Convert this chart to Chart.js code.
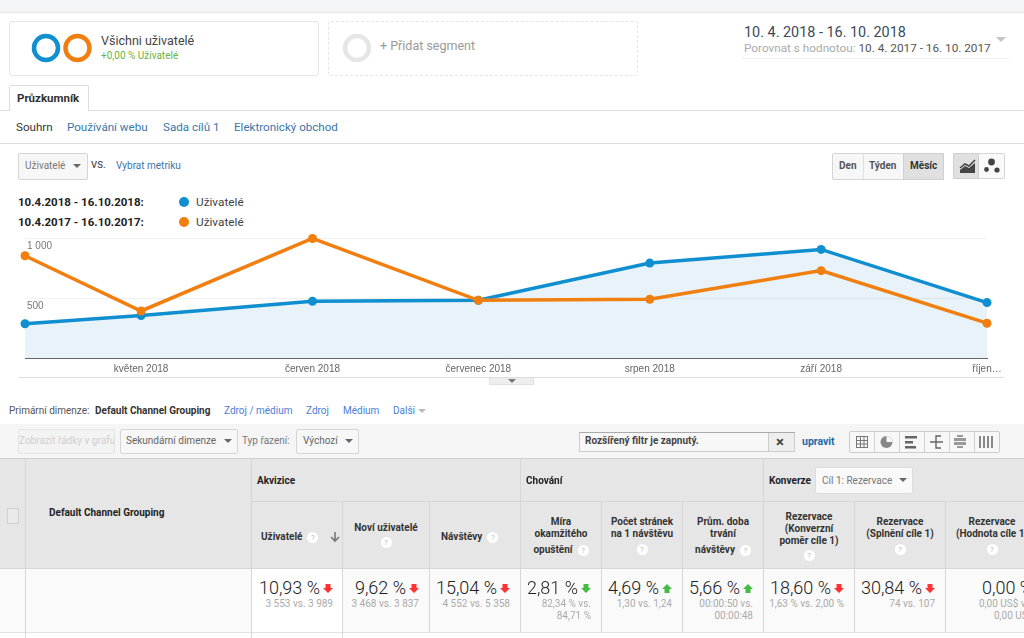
<!DOCTYPE html>
<html lang="cs">
<head>
<meta charset="utf-8">
<title>Přehled kanálů</title>
<script src="https://cdn.jsdelivr.net/npm/chart.js@4/dist/chart.umd.min.js"></script>
<style>
  html, body { margin: 0; padding: 0; background: #fff; }
  body { position: relative; width: 1024px; height: 638px; overflow: hidden; font-family: Roboto, sans-serif; color: #333; }
  .t { position: absolute; white-space: nowrap; line-height: 14px; height: 14px; }
  .box { position: absolute; box-sizing: border-box; }
  .link { color: #3a76a8; font-size: 11.6px; }
  .dim { color: #4a80d8; font-size: 10px; }
  .b { font-weight: 700; }
  .hline { position: absolute; height: 1px; background: #ddd; }
  .vline { position: absolute; width: 1px; background: #d6d6d6; }
  .btn { position: absolute; box-sizing: border-box; background: #f7f7f7; border: 1px solid #d5d5d5; border-radius: 2px; }
  .caret { position: absolute; width: 0; height: 0; border-left: 4px solid transparent; border-right: 4px solid transparent; border-top: 4px solid #666; }
  .head { position: absolute; text-align: center; font-size: 10px; font-weight: 700; line-height: 12px; color: #333; }
  .help { display: inline-block; width: 11px; height: 11px; border-radius: 50%; background: #fff; color: #bbb; font-size: 8px; line-height: 11px; text-align: center; font-weight: 400; }
  .big { position: absolute; height: 22px; line-height: 22px; font-size: 18px; font-weight: 300; color: #222; white-space: nowrap; }
  .big svg { margin-left: 3px; vertical-align: 1px; }
  .sub { position: absolute; font-size: 10px; line-height: 12px; color: #aaa; white-space: nowrap; text-align: right; }
  #chartWrap { position: absolute; left: 0; top: 230px; width: 1024px; height: 150px; }
</style>
</head>
<body>

<!-- top strip -->
<div class="box" style="left:0;top:0;width:1024px;height:13px;background:#f4f5f7;border-bottom:1px solid #e8e8e8"></div>

<!-- segments -->
<div class="box" style="left:9px;top:21px;width:310px;height:55px;border:1px solid #e5e5e5;border-radius:3px"></div>
<svg class="box" style="left:30px;top:32px" width="64" height="32">
  <circle cx="16" cy="16" r="12" fill="none" stroke="#0f8fd0" stroke-width="4.5"/>
  <circle cx="47.5" cy="16" r="12" fill="none" stroke="#f07f10" stroke-width="4.5"/>
</svg>
<div class="t" style="left:101px;top:34px;font-size:12.5px;color:#444">Všichni uživatelé</div>
<div class="t" style="left:101px;top:49px;font-size:10px;color:#6ab344">+0,00 % Uživatelé</div>

<div class="box" style="left:328px;top:21px;width:310px;height:55px;border:1px dashed #e5e5e5;border-radius:3px"></div>
<svg class="box" style="left:341px;top:32px" width="32" height="32">
  <circle cx="16" cy="16" r="12" fill="none" stroke="#e6e6e6" stroke-width="4.5"/>
</svg>
<div class="t" style="left:380px;top:39px;font-size:12.5px;color:#999">+ Přidat segment</div>

<!-- date range -->
<div class="t" style="left:744px;top:26px;font-size:14.4px;color:#3a4a5a">10. 4. 2018 - 16. 10. 2018</div>
<div class="t" style="left:744px;top:41px;font-size:11.75px;color:#aaa">Porovnat s hodnotou: <span style="color:#555">10. 4. 2017 - 16. 10. 2017</span></div>
<div class="hline" style="left:742px;top:58px;width:267px;background:#eee"></div>
<div class="caret" style="left:996px;top:37px;border-left-width:5px;border-right-width:5px;border-top:5px solid #c4c4c4"></div>

<!-- tabs -->
<div class="hline" style="left:0;top:110px;width:1024px"></div>
<div class="box" style="left:9px;top:85px;width:80px;height:26px;border:1px solid #ddd;border-bottom:0;background:#fff;border-radius:2px 2px 0 0"></div>
<div class="t b" style="left:17px;top:91px;font-size:11.5px;color:#333">Průzkumník</div>
<div class="t" style="left:16px;top:120px;font-size:11.6px;color:#333">Souhrn</div>
<div class="t link" style="left:67px;top:120px">Používání webu</div>
<div class="t link" style="left:163px;top:120px">Sada cílů 1</div>
<div class="t link" style="left:234px;top:120px">Elektronický obchod</div>
<div class="hline" style="left:0;top:143px;width:1024px"></div>

<!-- metric picker -->
<div class="btn" style="left:18px;top:153px;width:70px;height:27px"></div>
<div class="t" style="left:25px;top:159px;font-size:10px;color:#777">Uživatelé</div>
<div class="caret" style="left:73px;top:164px"></div>
<div class="t" style="left:91px;top:158px;font-size:9.5px;color:#555;font-weight:500">VS.</div>
<div class="t" style="left:116px;top:159px;font-size:10px;color:#3a76a8">Vybrat metriku</div>

<!-- period buttons -->
<div class="btn" style="left:832px;top:153px;width:112px;height:27px"></div>
<div class="box" style="left:903px;top:153px;width:41px;height:27px;background:#e0e0e0;border:1px solid #d0d0d0"></div>
<div class="vline" style="left:863px;top:154px;height:25px;background:#e0e0e0"></div>
<div class="t b" style="left:839px;top:159px;font-size:10px;color:#555">Den</div>
<div class="t b" style="left:869px;top:159px;font-size:10px;color:#555">Týden</div>
<div class="t b" style="left:910px;top:159px;font-size:10px;color:#333">Měsíc</div>
<div class="btn" style="left:953px;top:153px;width:52px;height:26px;background:#fafafa"></div>
<div class="box" style="left:953px;top:153px;width:26px;height:26px;background:#e0e0e0;border:1px solid #d0d0d0"></div>
<svg class="box" style="left:958px;top:157px" width="44" height="18">
  <path d="M2 11 L7 7 L11 9 L17 3" fill="none" stroke="#444" stroke-width="1.5"/>
  <path d="M2 16 L2 13 L7 9 L11 11 L17 6 L17 16 Z" fill="#444"/>
  <circle cx="33.5" cy="5" r="3.4" fill="#444"/><circle cx="28.5" cy="12.5" r="2.4" fill="#444"/><circle cx="39" cy="13" r="2.6" fill="#444"/>
</svg>

<!-- legend -->
<div class="t b" style="left:18px;top:195px;font-size:11.5px;color:#222">10.4.2018 - 16.10.2018:</div>
<div class="box" style="left:179px;top:197px;width:10px;height:10px;border-radius:50%;background:#0f8fd0"></div>
<div class="t" style="left:196px;top:195px;font-size:11.8px;color:#444">Uživatelé</div>
<div class="t b" style="left:18px;top:215px;font-size:11.5px;color:#222">10.4.2017 - 16.10.2017:</div>
<div class="box" style="left:179px;top:217px;width:10px;height:10px;border-radius:50%;background:#f07f10"></div>
<div class="t" style="left:196px;top:215px;font-size:11.8px;color:#444">Uživatelé</div>

<!-- chart -->
<div class="hline" style="left:19px;top:377px;width:985px"></div>
<div id="chartWrap"><canvas id="usersChart" width="1024" height="150"></canvas></div>
<div class="box" style="left:489px;top:378px;width:45px;height:7px;background:#eee;border:1px solid #e0e0e0;border-top:0"></div>
<div class="caret" style="left:508px;top:379px;border-top-color:#777"></div>

<!-- primary dimension -->
<div class="t" style="left:9px;top:404px;font-size:10px;color:#555">Primární dimenze:</div>
<div class="t b" style="left:95px;top:404px;font-size:10px;color:#333">Default Channel Grouping</div>
<div class="t dim" style="left:224px;top:404px">Zdroj / médium</div>
<div class="t dim" style="left:306px;top:404px">Zdroj</div>
<div class="t dim" style="left:343px;top:404px">Médium</div>
<div class="t dim" style="left:393px;top:404px">Další</div>
<div class="caret" style="left:418px;top:409px;border-top-color:#bbb"></div>

<!-- toolbar -->
<div class="box" style="left:0;top:424px;width:1024px;height:35px;background:#f5f5f5"></div>
<div class="btn" style="left:18px;top:429px;width:97px;height:25px;background:#f3f3f3;border-color:#e4e4e4"></div>
<div class="t" style="left:19px;top:434px;width:95px;overflow:hidden;font-size:10px;color:#cfcfcf">Zobrazit řádky v grafu</div>
<div class="btn" style="left:120px;top:429px;width:118px;height:25px"></div>
<div class="t" style="left:126px;top:434px;font-size:10px;color:#666">Sekundární dimenze</div>
<div class="caret" style="left:224px;top:439px"></div>
<div class="t" style="left:242px;top:434px;font-size:10px;color:#777">Typ řazení:</div>
<div class="btn" style="left:296px;top:429px;width:63px;height:25px"></div>
<div class="t" style="left:303px;top:434px;font-size:10px;color:#666">Výchozí</div>
<div class="caret" style="left:345px;top:439px"></div>

<div class="box" style="left:579px;top:432px;width:216px;height:20px;background:#f7f7f7;border:1px solid #ccc;border-top-color:#aaa"></div>
<div class="vline" style="left:768px;top:433px;height:18px;background:#ccc"></div>
<div class="box" style="left:769px;top:433px;width:25px;height:18px;background:#eee"></div>
<div class="t b" style="left:585px;top:434px;font-size:10px;color:#444">Rozšířený filtr je zapnutý.</div>
<div class="t" style="left:776px;top:435px;font-size:15px;font-weight:700;color:#444">×</div>
<div class="t b" style="left:802px;top:435px;font-size:10.5px;color:#1a6aa8">upravit</div>

<div class="btn" style="left:849px;top:431px;width:151px;height:22px;background:#f7f7f7;border-color:#ccc"></div>
<svg class="box" style="left:849px;top:431px" width="151" height="22">
  <g stroke="#d0d0d0"><path d="M25.5 1V21M50.5 1V21M75.5 1V21M100.5 1V21M125.5 1V21"/></g>
  <g fill="none" stroke="#777"><rect x="7.5" y="5.5" width="11" height="11"/><path d="M11.5 5V17M15 5V17M7 9.5H19M7 13H19"/></g>
  <circle cx="37.5" cy="11" r="6" fill="#888"/><path d="M37.5 11V5A6 6 0 0 1 43.5 11Z" fill="#f7f7f7"/>
  <g fill="#666"><rect x="56" y="5" width="12" height="2.5"/><rect x="56" y="10" width="8" height="2.5"/><rect x="56" y="15" width="11" height="2.5"/></g>
  <g fill="none" stroke="#666" stroke-width="1.4"><path d="M81 11H94M87 11V5H92M87 11V17H92"/></g>
  <g fill="#999"><rect x="105" y="7" width="12" height="3"/><rect x="105" y="11" width="12" height="3"/><rect x="108" y="4" width="6" height="2"/><rect x="108" y="15" width="6" height="2"/></g>
  <g fill="#888"><rect x="130" y="5" width="2" height="12"/><rect x="134" y="5" width="2" height="12"/><rect x="138" y="5" width="2" height="12"/><rect x="142" y="5" width="2" height="12"/></g>
</svg>

<!-- table header -->
<div class="box" style="left:0;top:458px;width:1024px;height:111px;background:#e6e6e6;border-top:1px solid #d0d0d0;border-bottom:1px solid #d6d6d6"></div>
<div class="hline" style="left:251px;top:501px;width:773px;background:#d6d6d6"></div>

<!-- totals row -->
<div class="box" style="left:0;top:569px;width:1024px;height:63px;background:#fafafa"></div>
<div class="box" style="left:252px;top:569px;width:90px;height:69px;background:#fff"></div>
<div class="hline" style="left:0;top:632px;width:1024px;background:#e2e2e2"></div>

<div class="vline" style="left:25px;top:459px;height:179px"></div>
<div class="vline" style="left:251px;top:459px;height:179px"></div>
<div class="vline" style="left:520px;top:459px;height:173px"></div>
<div class="vline" style="left:763px;top:459px;height:173px"></div>
<div class="vline" style="left:342px;top:502px;height:136px"></div>
<div class="vline" style="left:429px;top:502px;height:130px"></div>
<div class="vline" style="left:601px;top:502px;height:130px"></div>
<div class="vline" style="left:682px;top:502px;height:130px"></div>
<div class="vline" style="left:854px;top:502px;height:130px"></div>
<div class="vline" style="left:945px;top:502px;height:130px"></div>

<div class="box" style="left:7px;top:508px;width:12px;height:16px;border:1px solid #d0d0d0;background:#eaeaea"></div>
<div class="t b" style="left:49px;top:506px;font-size:10px;color:#222">Default Channel Grouping</div>
<div class="t b" style="left:257px;top:474px;font-size:10px;color:#222">Akvizice</div>
<div class="t b" style="left:526px;top:474px;font-size:10px;color:#222">Chování</div>
<div class="t b" style="left:769px;top:474px;font-size:10px;color:#222">Konverze</div>
<div class="btn" style="left:815px;top:467px;width:98px;height:27px;background:#f9f9f9;border-color:#ddd"></div>
<div class="t" style="left:822px;top:474px;font-size:10px;color:#777">Cíl 1: Rezervace</div>
<div class="caret" style="left:899px;top:478px"></div>

<div class="head" style="left:261px;top:531px;white-space:nowrap">Uživatelé&nbsp;&nbsp;<span class="help">?</span></div>
<svg class="box" style="left:329px;top:531px" width="12" height="12"><path d="M6 1V10M2 6L6 10L10 6" fill="none" stroke="#777" stroke-width="1.6"/></svg>
<div class="head" style="left:343px;top:522px;width:86px">Noví uživatelé<br><span class="help" style="margin-top:3px">?</span></div>
<div class="head" style="left:441px;top:531px;white-space:nowrap">Návštěvy&nbsp;&nbsp;<span class="help">?</span></div>
<div class="head" style="left:521px;top:516px;width:80px">Míra<br>okamžitého<br><div style="margin-top:4px">opuštění&nbsp;&nbsp;<span class="help">?</span></div></div>
<div class="head" style="left:602px;top:516px;width:80px">Počet stránek<br>na 1 návštěvu<br><span class="help" style="margin-top:4px">?</span></div>
<div class="head" style="left:683px;top:516px;width:80px">Prům. doba<br>trvání<br><div style="margin-top:4px">návštěvy&nbsp;&nbsp;<span class="help">?</span></div></div>
<div class="head" style="left:764px;top:511px;width:90px">Rezervace<br>(Konverzní<br>poměr cíle 1)<br><span class="help" style="margin-top:3px">?</span></div>
<div class="head" style="left:855px;top:516px;width:90px">Rezervace<br>(Splnění cíle 1)<br><span class="help" style="margin-top:4px">?</span></div>
<div class="head" style="left:946px;top:516px;width:92px;white-space:nowrap">Rezervace<br>(Hodnota cíle 1)<br><span class="help" style="margin-top:4px">?</span></div>

<svg width="0" height="0" style="position:absolute">
  <defs>
    <path id="arrowDown" d="M2.5 0H7.5V4H10L5 9L0 4H2.5Z"/>
    <path id="arrowUp" d="M5 0L10 5H7.5V9H2.5V5H0Z"/>
  </defs>
</svg>

<div class="big" style="right:691px;top:577px"><span>10,93 %</span><svg width="10" height="9" fill="#f33"><use href="#arrowDown"/></svg></div>
<div class="sub" style="right:691px;top:598px">3 553 vs. 3 989</div>
<div class="big" style="right:605px;top:577px"><span>9,62 %</span><svg width="10" height="9" fill="#f33"><use href="#arrowDown"/></svg></div>
<div class="sub" style="right:605px;top:598px">3 468 vs. 3 837</div>
<div class="big" style="right:514px;top:577px"><span>15,04 %</span><svg width="10" height="9" fill="#f33"><use href="#arrowDown"/></svg></div>
<div class="sub" style="right:514px;top:598px">4 552 vs. 5 358</div>
<div class="big" style="right:433px;top:577px"><span>2,81 %</span><svg width="10" height="9" fill="#4b4"><use href="#arrowDown"/></svg></div>
<div class="sub" style="right:433px;top:598px">82,34 % vs.<br>84,71 %</div>
<div class="big" style="right:352px;top:577px"><span>4,69 %</span><svg width="10" height="9" fill="#4b4"><use href="#arrowUp"/></svg></div>
<div class="sub" style="right:352px;top:598px">1,30 vs. 1,24</div>
<div class="big" style="right:271px;top:577px"><span>5,66 %</span><svg width="10" height="9" fill="#4b4"><use href="#arrowUp"/></svg></div>
<div class="sub" style="right:271px;top:598px">00:00:50 vs.<br>00:00:48</div>
<div class="big" style="right:180px;top:577px"><span>18,60 %</span><svg width="10" height="9" fill="#f33"><use href="#arrowDown"/></svg></div>
<div class="sub" style="right:180px;top:598px">1,63 % vs. 2,00 %</div>
<div class="big" style="right:89px;top:577px"><span>30,84 %</span><svg width="10" height="9" fill="#f33"><use href="#arrowDown"/></svg></div>
<div class="sub" style="right:89px;top:598px">74 vs. 107</div>
<div class="big" style="left:982px;top:577px"><span>0,00 %</span></div>
<div class="sub" style="left:979px;top:598px;text-align:left">0,00 US$ vs.<br><span style="margin-left:15px">0,00 US$</span></div>

<script>
// Days since the start of the range, the monthly points are not evenly spaced
const dayOffsets = [0, 21, 52, 82, 113, 144, 174];
const monthLabels = ["", "květen 2018", "červen 2018", "červenec 2018", "srpen 2018", "září 2018", "říjen…"];
const users2018 = [285, 354, 473, 481, 791, 905, 462];
const users2017 = [852, 392, 996, 481, 490, 728, 290];
const yTicks = [0, 500, 1000];
const yTickLabels = ["", "500", "1 000"];

const BLUE = "#0f8fd0";
const ORANGE = "#f07f10";

function toPoints(values) {
  return values.map((v, i) => ({ x: dayOffsets[i], y: v }));
}

const ctx = document.getElementById("usersChart").getContext("2d");
new Chart(ctx, {
  type: "line",
  data: {
    datasets: [
      {
        label: "10.4.2017 - 16.10.2017",
        data: toPoints(users2017),
        borderColor: ORANGE,
        backgroundColor: ORANGE,
        borderWidth: 3.5,
        pointRadius: 4.5,
        pointBackgroundColor: ORANGE,
        pointBorderWidth: 0,
        tension: 0,
        fill: false,
        clip: false,
        order: 1,
      },
      {
        label: "10.4.2018 - 16.10.2018",
        data: toPoints(users2018),
        borderColor: BLUE,
        backgroundColor: "rgba(15,128,200,0.10)",
        borderWidth: 3.5,
        pointRadius: 4.5,
        pointBackgroundColor: BLUE,
        pointBorderWidth: 0,
        tension: 0,
        fill: "origin",
        clip: false,
        order: 2,
      },
    ],
  },
  options: {
    responsive: false,
    animation: false,
    layout: { padding: { left: 21, right: 37, top: 8, bottom: 0 } },
    plugins: { legend: { display: false }, tooltip: { enabled: false } },
    scales: {
      x: {
        type: "linear",
        min: dayOffsets[0],
        max: dayOffsets[dayOffsets.length - 1],
        grid: { display: false, drawTicks: false },
        border: { color: "#666", width: 1 },
        afterBuildTicks: (axis) => { axis.ticks = dayOffsets.map((v) => ({ value: v })); },
        afterFit: (axis) => { axis.height = 22; },
        ticks: {
          color: "#666",
          font: { family: "'Liberation Sans'", size: 10 },
          padding: 5,
          autoSkip: false,
          maxRotation: 0,
          callback: (v) => monthLabels[dayOffsets.indexOf(v)],
        },
      },
      y: {
        min: 0,
        max: 1000,
        grid: { color: "#f0f0f0", drawTicks: false },
        border: { display: false },
        afterBuildTicks: (axis) => { axis.ticks = yTicks.map((v) => ({ value: v })); },
        ticks: {
          mirror: true,
          padding: 2,
          labelOffset: 8,
          color: "#777",
          font: { family: "'Liberation Sans'", size: 10 },
          callback: (v) => yTickLabels[yTicks.indexOf(v)],
        },
      },
    },
  },
});
</script>
</body>
</html>
